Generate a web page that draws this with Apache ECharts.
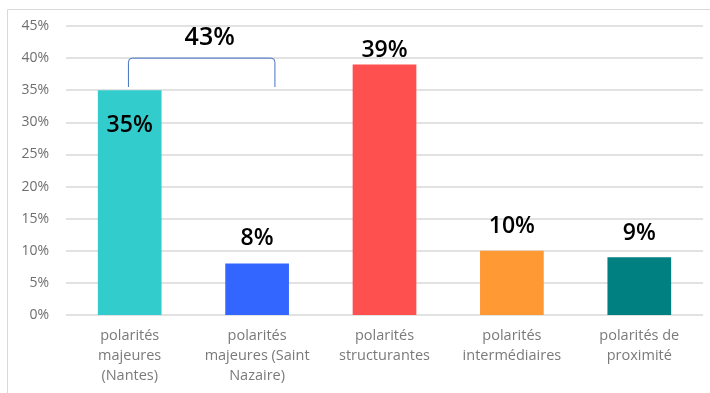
<!DOCTYPE html>
<html>
<head>
<meta charset="utf-8">
<script src="https://cdn.jsdelivr.net/npm/echarts@6/dist/echarts.min.js"></script>
<style>
  html, body { margin: 0; padding: 0; background: #fff; }
  #chart { width: 710px; height: 393px; }
</style>
</head>
<body>
<div id="chart"></div>
<script>
// Share of each polarity type (%)
const categories = [
  'polarités\nmajeures\n(Nantes)',
  'polarités\nmajeures (Saint\nNazaire)',
  'polarités\nstructurantes',
  'polarités\nintermédiaires',
  'polarités de\nproximité'
];
const values = [35, 8, 39, 10, 9];
const yTicks = [0, 5, 10, 15, 20, 25, 30, 35, 40, 45];

// Presentation
const barColors = ['#33CCCC', '#3366FF', '#FF5050', '#FF9933', '#008080'];
const labelPlacement = [
  { position: 'insideTop', distance: 24 },
  { position: 'top', distance: 14 },
  { position: 'top', distance: 3 },
  { position: 'top', distance: 13 },
  { position: 'top', distance: 12 }
];

// Both "majeures" groups combined
const majeuresTotal = values[0] + values[1];

const labelFont = { fontFamily: 'Open Sans', fontSize: 23, fontWeight: 600, color: '#000' };

const chart = echarts.init(document.getElementById('chart'), null, { renderer: 'canvas' });

chart.setOption({
  animation: false,
  backgroundColor: '#fff',
  graphic: [{
    type: 'rect',
    left: 5, top: 7,
    shape: { x: 0.5, y: 0.5, width: 720, height: 400 },
    style: { fill: 'none', stroke: '#d9d9d9', lineWidth: 1 },
    silent: true
  }],
  grid: { left: 66, right: 7, top: 26, bottom: 78 },
  xAxis: {
    type: 'category',
    data: categories,
    axisLine: { show: false },
    axisTick: { show: false },
    axisLabel: {
      interval: 0,
      margin: 11,
      color: '#7a7a7a',
      fontFamily: 'Open Sans',
      fontSize: 14.5,
      lineHeight: 20
    }
  },
  yAxis: {
    type: 'value',
    min: yTicks[0],
    max: yTicks[yTicks.length - 1],
    interval: yTicks[1] - yTicks[0],
    axisLine: { show: false },
    axisTick: { show: false },
    axisLabel: {
      margin: 17,
      color: '#6e6e6e',
      fontFamily: 'Open Sans',
      fontSize: 14,
      formatter: '{value}%'
    },
    splitLine: { lineStyle: { color: '#d9d9d9', width: 1.5 } }
  },
  series: [
    {
      type: 'bar',
      barWidth: '50%',
      data: values.map((v, i) => ({
        value: v,
        itemStyle: { color: barColors[i] },
        label: {
          show: true,
          position: labelPlacement[i].position,
          distance: labelPlacement[i].distance,
          formatter: '{c}%',
          ...labelFont
        }
      }))
    },
    {
      // Bracket grouping the two "majeures" bars with their total
      type: 'custom',
      silent: true,
      z: 5,
      data: [[0, 1]],
      encode: { x: 0 },
      renderItem: function (params, api) {
        const band = api.size([1, 0])[0];
        const top = api.coord([0, 40])[1];
        const bottom = api.coord([0, 35.5])[1];
        const x1 = api.coord([0, 0])[0] - band * 0.01;
        const x2 = api.coord([1, 0])[0] + band * 0.14;
        const r = 4;
        const d = 'M' + x1 + ' ' + bottom +
          ' L' + x1 + ' ' + (top + r) +
          ' Q' + x1 + ' ' + top + ' ' + (x1 + r) + ' ' + top +
          ' L' + (x2 - r) + ' ' + top +
          ' Q' + x2 + ' ' + top + ' ' + x2 + ' ' + (top + r) +
          ' L' + x2 + ' ' + bottom;
        return {
          type: 'group',
          children: [
            {
              type: 'path',
              shape: { pathData: d },
              style: { fill: 'none', stroke: '#4472C4', lineWidth: 1 }
            },
            {
              type: 'text',
              x: (x1 + x2) / 2 + 8,
              y: top - 20,
              style: {
                text: majeuresTotal + '%',
                align: 'center',
                verticalAlign: 'middle',
                font: '600 25px "Open Sans"',
                fill: '#000'
              }
            }
          ]
        };
      }
    }
  ]
});
</script>
</body>
</html>
